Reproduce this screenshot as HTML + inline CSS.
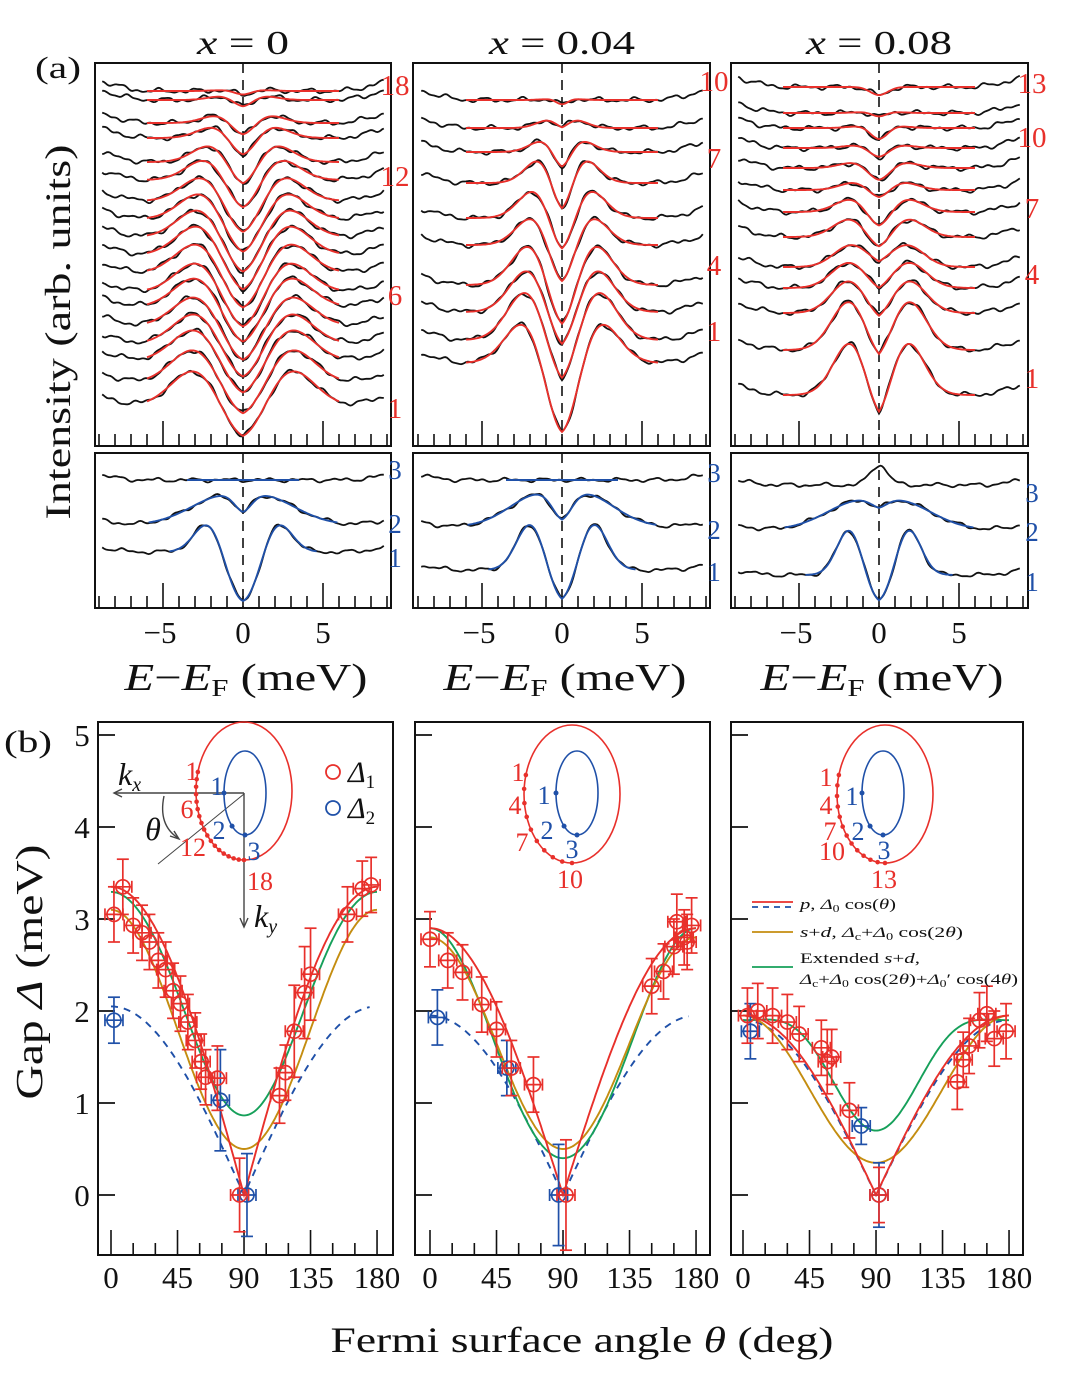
<!DOCTYPE html>
<html><head><meta charset="utf-8"><style>
html,body{margin:0;padding:0;background:#fff;}
svg{display:block;font-family:"Liberation Serif",serif;}
</style></head><body>
<svg id="fig" width="1080" height="1391" viewBox="0 0 1080 1391" xmlns="http://www.w3.org/2000/svg">
<g id="layer"></g>
</svg>
<script>
// ---------- Panel (a) spectra data (gap in meV, peak/dip amplitude and vertical offset in arb. units) ----------
const p1Gap=[2.9,2.9,2.85,2.8,2.8,2.75,2.7,2.7,2.65,2.6,2.5,2.4,2.2,1.9,1.7,1.5,1.2,1.0];
const p1Peak=[38,36,34,33,32,32,32,32,32,30,28,26,22,18,12,8,4,1];
const p1Dip=[36,36,37,38,39,40,40,40,40,40,38,36,32,26,20,14,8,4];
const p1Off=[40,63,85,102,120,139,154,173,191,209,227,245,266,284,308,323,346,355];
const p2Gap=[2.2,2.1,2.0,1.9,1.7,1.6,1.3,1.1,0.8,0.6];
const p2Peak=[45,52,45,43,30,30,25,12,8,1];
const p2Dip=[79,50,43,50,45,40,35,20,4,5];
const p2Off=[83,106,134,161,201,228,263,294,318,346];
const p3Gap=[1.7,1.8,1.8,1.8,1.7,1.7,1.6,1.4,1.4,1.2,1.0,0.8,1.0];
const p3Peak=[55,50,33,26,22,19,14,8,6,3,2,1,0];
const p3Dip=[33,18,12,7,1,15,18,10,14,10,12,4,8];
const p3Off=[51,96,133,158,179,209,234,256,278,298,318,333,359];
const l1Gap=[2.1,1.0,1.0], l1Peak=[32,30,0], l1Dip=[51,14,0], l1Wid=[0.9,2.2,1.0], l1Off=[56,83,128];
const l2Gap=[1.9,1.2,1.0], l2Peak=[49,34,0], l2Dip=[34,21,0], l2Wid=[0.9,2.0,1.0], l2Off=[38,81,128];
const l3Gap=[1.8,1.0,1.0], l3Peak=[48,30,0], l3Dip=[29,5,-20], l3Wid=[0.8,2.2,1.0], l3Off=[33,78,123];
const topLabels1=[1,6,12,18], topLabels2=[1,4,7,10], topLabels3=[1,4,7,10,13];
const energyTickLabels=["−5","0","5"], energyTickValues=[-5,0,5];
// ---------- Panel (b) gap data ----------
const b1T1=[2,8,15,21,26,32,37,42,47,52,57,61,64,72,87,114,118,124,131,135,160,170,176];
const b1D1=[3.05,3.35,2.93,2.85,2.75,2.55,2.45,2.22,2.08,1.88,1.68,1.45,1.28,1.27,0,1.08,1.33,1.78,2.2,2.4,3.05,3.33,3.37];
const b1E1=[0.3,0.3,0.3,0.3,0.3,0.3,0.3,0.3,0.3,0.3,0.3,0.3,0.3,0.35,0.4,0.3,0.3,0.5,0.5,0.5,0.3,0.3,0.3];
const b1T2=[2,74,92], b1D2=[1.9,1.03,0], b1E2=[0.25,0.55,0.45];
const b2T1=[0,12,22,35,45,55,70,92,150,158,165,167,172,174,177];
const b2D1=[2.78,2.55,2.42,2.07,1.8,1.38,1.2,0,2.27,2.43,2.7,2.97,2.8,2.75,2.93];
const b2E1=[0.3,0.3,0.3,0.3,0.3,0.3,0.3,0.6,0.3,0.3,0.3,0.3,0.3,0.3,0.3];
const b2T2=[5,52,87], b2D2=[1.93,1.38,0], b2E2=[0.3,0.3,0.55];
const b3T1=[3,10,20,30,38,53,57,60,72,92,145,149,153,160,165,170,178];
const b3D1=[1.95,2.0,1.95,1.88,1.75,1.6,1.45,1.5,0.92,0,1.23,1.47,1.62,1.9,1.97,1.7,1.78];
const b3E1=[0.3,0.3,0.3,0.3,0.3,0.3,0.35,0.3,0.3,0.3,0.3,0.3,0.3,0.3,0.3,0.3,0.3];
const b3T2=[5,80,92], b3D2=[1.78,0.75,0], b3E2=[0.3,0.2,0.35];
const fitP=[3.35,2.9,1.95], fitPdash=[2.05,1.95,1.9];
const fitSdC=[1.8,1.65,1.15], fitSd0=[1.3,1.15,0.8];
const fitExC=[2.14,1.625,1.475], fitEx0=[1.215,1.25,0.6], fitEx4=[-0.06,0.025,-0.175];
const gapTickLabels=["0","1","2","3","4","5"], gapTickValues=[0,1,2,3,4,5];
const angleTickLabels=["0","45","90","135","180"], angleTickValues=[0,45,90,135,180];

const RED="#e8302b", BLUE="#1f50a8", GOLD="#c48d10", GREEN="#16a05a", INK="#111";
const NS="http://www.w3.org/2000/svg";
const root=document.getElementById('layer');
function mk(tag,attrs,parent){const e=document.createElementNS(NS,tag);for(const k in attrs)e.setAttribute(k,attrs[k]);(parent||root).appendChild(e);return e;}
function txt(x,y,s,size,opts,parent){const o=opts||{};const t=mk('text',{x:x,y:y,'font-size':size,fill:o.fill||INK,'text-anchor':o.anchor||'middle'},parent);if(o.style)t.setAttribute('font-style',o.style);if(o.rot)t.setAttribute('transform',o.rot);if(o.len){t.setAttribute('textLength',o.len);t.setAttribute('lengthAdjust','spacingAndGlyphs');}t.innerHTML=s;return t;}

// ---------- (a) panels ----------
const aPanels=[{x0:95,x1:391,z:243,gap:p1Gap,pk:p1Peak,dp:p1Dip,off:p1Off,lab:topLabels1,labY:[408,295,176,85],lowY:[558,524,470],lg:l1Gap,lp:l1Peak,ld:l1Dip,lw:l1Wid,lo:l1Off,lfit:[1,1,1],title:'<tspan font-style="italic">x</tspan> = 0',tl:92},
{x0:413,x1:710,z:562,gap:p2Gap,pk:p2Peak,dp:p2Dip,off:p2Off,lab:topLabels2,labY:[331,265,158,81],lowY:[572,530,473],lg:l2Gap,lp:l2Peak,ld:l2Dip,lw:l2Wid,lo:l2Off,lfit:[1,1,1],title:'<tspan font-style="italic">x</tspan> = 0.04',tl:146},
{x0:731,x1:1028,z:879,gap:p3Gap,pk:p3Peak,dp:p3Dip,off:p3Off,lab:topLabels3,labY:[378,274,208,137,83],lowY:[582,532,493],lg:l3Gap,lp:l3Peak,ld:l3Dip,lw:l3Wid,lo:l3Off,lfit:[1,1,0],title:'<tspan font-style="italic">x</tspan> = 0.08',tl:146}];
const PXM=16, TOP0=63, TOP1=446, LOW0=453, LOW1=608;
function shape(E,gap,P,D,w){const ww=w||(0.35*gap+0.5);const s=0.45*gap+0.1;const a=Math.abs(E);return P*Math.exp(-((a-gap)*(a-gap))/(2*ww*ww))-D*Math.exp(-E*E/(2*s*s));}
function wig(E,i,amp){return amp*(Math.sin(2.7*E+i*1.3)+0.6*Math.sin(5.3*E+i*2.1)+0.4*Math.sin(9.1*E+i*0.7));}
function curvePath(p,bottom,off,fn,Emin,Emax){let d='';for(let E=Emin;E<=Emax+1e-9;E+=0.1){const x=p.z+E*PXM;const y=bottom-off-fn(E);d+=(d?'L':'M')+x.toFixed(1)+','+y.toFixed(1);}return d;}
aPanels.forEach((p,pi)=>{
  const g=mk('g',{});
  const t=txt(p.z,54,p.title,34,{len:p.tl},g);
  [[TOP0,TOP1],[LOW0,LOW1]].forEach(([y0,y1],k)=>{
    const r=mk('rect',{x:p.x0,y:y0,width:p.x1-p.x0,height:y1-y0,fill:'none',stroke:INK,'stroke-width':2},g);
    
    const dl=mk('line',{x1:p.z,y1:y0,x2:p.z,y2:y1,stroke:INK,'stroke-width':1.6,'stroke-dasharray':'10,7'},g);
    
    for(let e=-9;e<=9;e++){const x=p.z+e*PXM;if(x<p.x0+2||x>p.x1-2)continue;const L=(e%5===0&&e!==0)?25:12;
      const tk=mk('line',{x1:x,y1:y1,x2:x,y2:y1-L,stroke:INK,'stroke-width':1.6},g);
      }
  });
  p.gap.forEach((gp,i)=>{
    const bd=mk('path',{d:curvePath(p,TOP1,p.off[i],E=>shape(E,gp,p.pk[i],p.dp[i])+wig(E,i+pi*7,1.6)+(Math.abs(E)>5.5?0.9*Math.pow(Math.abs(E)-5.5,2):0),-8.8,8.8),fill:'none',stroke:INK,'stroke-width':1.8},g);
    
    const fd=mk('path',{d:curvePath(p,TOP1,p.off[i],E=>shape(E,gp,p.pk[i],p.dp[i]),-6,6),fill:'none',stroke:RED,'stroke-width':1.9},g);
    
  });
  p.lab.forEach((n,k)=>{
    const l=txt(p.x1+4,p.labY[k]+10,String(n),29,{fill:RED},g);});
  p.lg.forEach((gp,i)=>{
    const bd=mk('path',{d:curvePath(p,LOW1,p.lo[i],E=>shape(E,gp,p.lp[i],p.ld[i],p.lw[i])+wig(E,i*3+pi*5+2,1.3)+(Math.abs(E)>6?0.6*Math.pow(Math.abs(E)-6,2):0),-8.8,8.8),fill:'none',stroke:INK,'stroke-width':1.8},g);
    
    if(p.lfit[i]){const R=i===2?3.5:(i===0?4.6:5.9);
      const fd=mk('path',{d:curvePath(p,LOW1,p.lo[i],E=>shape(E,gp,p.lp[i],p.ld[i],p.lw[i]),-R,R),fill:'none',stroke:BLUE,'stroke-width':1.9},g);
      }
    const l=txt(p.x1+4,p.lowY[i]+9,String(i+1),27,{fill:BLUE},g);
  });
  energyTickValues.forEach((v,k)=>{const l=txt(p.z+v*PXM-(v<0?3:0),643,energyTickLabels[k],31,{},g);});
  const xl=txt(p.z+3,690,'<tspan font-style="italic">E</tspan>−<tspan font-style="italic">E</tspan><tspan font-size="24" dy="6">F</tspan><tspan dy="-6"> (meV)</tspan>',38,{len:243},g);
  
});
let t0=txt(58,78,'(a)',31,{len:46});
t0=txt(70,332,'Intensity (arb. units)',36,{rot:'rotate(-90 70 332)',len:375});

// ---------- (b) panels ----------
const B0=722,B1=1255,PXD=1.478,PYG=92,YZ=1195;
const bPanels=[{x0:98,x1:393,z:111,t1:b1T1,d1:b1D1,e1:b1E1,t2:b1T2,d2:b1D2,e2:b1E2},
{x0:415,x1:710,z:430,t1:b2T1,d1:b2D1,e1:b2E1,t2:b2T2,d2:b2D2,e2:b2E2},
{x0:731,x1:1023,z:743,t1:b3T1,d1:b3D1,e1:b3E1,t2:b3T2,d2:b3D2,e2:b3E2}];
function gx(p,th){return p.z+th*PXD;} function gy(v){return YZ-v*PYG;}
bPanels.forEach((p,pi)=>{
  const g=mk('g',{});
  const r=mk('rect',{x:p.x0,y:B0,width:p.x1-p.x0,height:B1-B0,fill:'none',stroke:INK,'stroke-width':2},g);
  
  gapTickValues.forEach((v,k)=>{const tk=mk('line',{x1:p.x0,y1:gy(v),x2:p.x0+17,y2:gy(v),stroke:INK,'stroke-width':1.8},g);
    
    if(pi===0){const l=txt(82,gy(v)+11,gapTickLabels[k],31,{},g);}});
  for(let th=0;th<=180;th+=15){const L=th%45===0?25:12;const tk=mk('line',{x1:gx(p,th),y1:B1,x2:gx(p,th),y2:B1-L,stroke:INK,'stroke-width':1.6},g);
    }
  angleTickValues.forEach((v,k)=>{const l=txt(gx(p,v),1288,angleTickLabels[k],31,{},g);});
  function fitPath(fn,a,b){let d='';for(let th=a;th<=b+1e-9;th+=1){d+=(d?'L':'M')+gx(p,th).toFixed(1)+','+gy(fn(th*Math.PI/180)).toFixed(1);}return d;}
  const fits=[['fit-p-dashed',BLUE,th=>fitPdash[pi]*Math.abs(Math.cos(th)),'7,6',0,175],
    ['fit-extended-s-plus-d',GREEN,th=>Math.abs(fitExC[pi]+fitEx0[pi]*Math.cos(2*th)+fitEx4[pi]*Math.cos(4*th)),null,0,180],
    ['fit-s-plus-d',GOLD,th=>Math.abs(fitSdC[pi]+fitSd0[pi]*Math.cos(2*th)),null,0,180],
    ['fit-p',RED,th=>fitP[pi]*Math.abs(Math.cos(th)),null,0,180]];
  fits.forEach(f=>{const pa=mk('path',{d:fitPath(f[2],f[4],f[5]),fill:'none',stroke:f[1],'stroke-width':1.9},g);if(f[3])pa.setAttribute('stroke-dasharray',f[3]);
    });
  function pts(T,D,E,col,nm){T.forEach((th,i)=>{const x=gx(p,th),y=gy(D[i]),e=E[i]*PYG;
    const m=mk('g',{stroke:col,'stroke-width':1.7,fill:'none'},g);
    mk('line',{x1:x,y1:y-e,x2:x,y2:y+e},m);mk('line',{x1:x-6,y1:y-e,x2:x+6,y2:y-e},m);mk('line',{x1:x-6,y1:y+e,x2:x+6,y2:y+e},m);
    mk('line',{x1:x-9,y1:y,x2:x+9,y2:y},m);mk('line',{x1:x-9,y1:y-6,x2:x-9,y2:y+6},m);mk('line',{x1:x+9,y1:y-6,x2:x+9,y2:y+6},m);
    mk('circle',{cx:x,cy:y,r:7},m);});}
  pts(p.t2,p.d2,p.e2,BLUE,'delta2-point');
  pts(p.t1,p.d1,p.e1,RED,'delta1-point');
});
const insets=[{cx:244,cy:791,bx:245,by:793,red:[['1',192,780],['6',187,818],['12',193,856],['18',260,890]],blue:[['1',217,795],['2',219,839],['3',254,860]],n:18,axes:true},
{cx:572,cy:794,bx:577,by:793,red:[['1',518,781],['4',515,814],['7',522,851],['10',570,888]],blue:[['1',544,804],['2',547,839],['3',572,858]],n:10},
{cx:885,cy:794,bx:883,by:793,red:[['1',826,786],['4',826,814],['7',830,840],['10',832,860],['13',884,888]],blue:[['1',852,805],['2',858,840],['3',884,859]],n:13}];
insets.forEach((s,k)=>{
  const g=mk('g',{});
  if(s.axes){
    const ax=mk('g',{stroke:'#444','stroke-width':1.4,fill:'none'},g);
    mk('line',{x1:s.cx,y1:793,x2:115,y2:793},ax);mk('path',{d:'M122,789 L114,793 L122,797'},ax);
    mk('line',{x1:s.cx,y1:793,x2:s.cx,y2:926},ax);mk('path',{d:'M240,918 L244,927 L248,918'},ax);
    mk('line',{x1:s.cx,y1:794,x2:158,y2:864,'stroke-width':1},ax);
    mk('path',{d:'M164,796 Q158,825 178,838'},ax);mk('path',{d:'M170,836 L179,839 L174,831'},ax);
    let l=txt(118,785,'<tspan font-style="italic">k</tspan><tspan font-size="20" font-style="italic" dy="6">x</tspan>',32,{anchor:'start'},g);
    l=txt(153,840,'θ',32,{style:'italic'},g);
    l=txt(254,927,'<tspan font-style="italic">k</tspan><tspan font-size="20" font-style="italic" dy="6">y</tspan>',32,{anchor:'start'},g);
  }
  const e1=mk('ellipse',{cx:s.cx,cy:s.cy,rx:48,ry:69,fill:'none',stroke:RED,'stroke-width':1.6},g);
  const e2=mk('ellipse',{cx:s.bx,cy:s.by,rx:21,ry:42,fill:'none',stroke:BLUE,'stroke-width':1.6},g);
  for(let i=0;i<s.n;i++){const a=(196-106*i/(s.n-1))*Math.PI/180;const d=mk('circle',{cx:s.cx+48*Math.cos(a),cy:s.cy+69*Math.sin(a),r:2.3,fill:RED},g);
    }
  [[180],[128],[90]].forEach(([deg])=>{const a=deg*Math.PI/180;const d=mk('circle',{cx:s.bx+21*Math.cos(a),cy:s.by+42*Math.sin(a),r:2.5,fill:BLUE},g);
    });
  s.red.forEach(r=>{const l=txt(r[1],r[2],r[0],26,{fill:RED},g);});
  s.blue.forEach(r=>{const l=txt(r[1],r[2],r[0],26,{fill:BLUE},g);});
});
const lg=mk('g',{});
[[RED,772,'1'],[BLUE,808,'2']].forEach(([c,y,n])=>{const e=mk('g',{},lg);
  mk('circle',{cx:333,cy:y,r:7,fill:'none',stroke:c,'stroke-width':1.8},e);
  txt(348,y+10,'<tspan font-style="italic">Δ</tspan><tspan font-size="19" dy="6">'+n+'</tspan>',30,{anchor:'start'},e);});
const ll=mk('g',{});
let le=mk('g',{},ll);
mk('line',{x1:752,y1:902,x2:793,y2:902,stroke:RED,'stroke-width':1.8},le);mk('line',{x1:752,y1:907,x2:793,y2:907,stroke:BLUE,'stroke-width':1.8,'stroke-dasharray':'6,5'},le);
txt(800,909,'<tspan font-style="italic">p</tspan>, <tspan font-style="italic">Δ</tspan><tspan font-size="10" dy="3">0</tspan><tspan dy="-3"> cos(</tspan><tspan font-style="italic">θ</tspan>)',15,{anchor:'start',len:96},le);
le=mk('g',{},ll);
mk('line',{x1:752,y1:932,x2:793,y2:932,stroke:GOLD,'stroke-width':1.8},le);
txt(800,937,'<tspan font-style="italic">s</tspan>+<tspan font-style="italic">d</tspan>, <tspan font-style="italic">Δ</tspan><tspan font-size="10" dy="3">c</tspan><tspan dy="-3">+</tspan><tspan font-style="italic">Δ</tspan><tspan font-size="10" dy="3">0</tspan><tspan dy="-3"> cos(2</tspan><tspan font-style="italic">θ</tspan>)',15,{anchor:'start',len:163},le);
le=mk('g',{},ll);
mk('line',{x1:752,y1:967,x2:793,y2:967,stroke:GREEN,'stroke-width':1.8},le);
txt(800,963,'Extended <tspan font-style="italic">s</tspan>+<tspan font-style="italic">d</tspan>,',15,{anchor:'start',len:120},le);
txt(800,984,'<tspan font-style="italic">Δ</tspan><tspan font-size="10" dy="3">c</tspan><tspan dy="-3">+</tspan><tspan font-style="italic">Δ</tspan><tspan font-size="10" dy="3">0</tspan><tspan dy="-3"> cos(2</tspan><tspan font-style="italic">θ</tspan>)+<tspan font-style="italic">Δ</tspan><tspan font-size="10" dy="3">0</tspan><tspan dy="-3">′ cos(4</tspan><tspan font-style="italic">θ</tspan>)',15,{anchor:'start',len:218},le);
t0=txt(28,752,'(b)',31,{len:48});
t0=txt(42,972,'Gap <tspan font-style="italic">Δ</tspan> (meV)',38,{rot:'rotate(-90 42 972)',len:255});
t0=txt(582,1352,'Fermi surface angle <tspan font-style="italic">θ</tspan> (deg)',36,{len:503});
</script>
</body></html>
